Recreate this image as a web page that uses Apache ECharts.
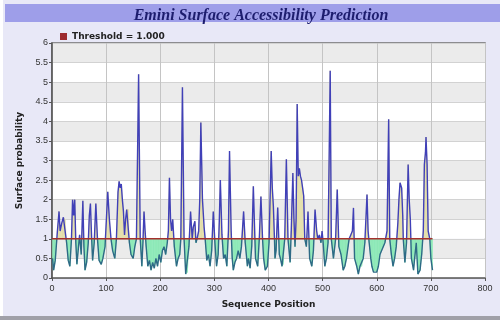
<!DOCTYPE html>
<html>
<head>
<meta charset="utf-8">
<script src="https://cdn.jsdelivr.net/npm/echarts@6/dist/echarts.min.js"></script>
<style>
  html, body { margin: 0; padding: 0; background: #fff; }
  #chart { width: 500px; height: 320px; }
</style>
</head>
<body>
<div id="chart"></div>
<script>
// Emini surface accessibility: [sequence position, probability]
const emini = [
  [1, 0.5], [3, 0.2], [6, 0.45], [10, 1.2], [13, 1.7], [15, 1.2], [18, 1.4], [21, 1.55], [24, 1.5],
  [27, 0.9], [30, 0.45], [33, 0.3], [36, 1.0], [38, 2.0], [40, 1.6], [42, 2.0], [44, 0.9], [46, 0.35],
  [49, 0.8], [51, 1.1], [54, 0.6], [57, 1.97], [59, 0.8], [61, 0.2], [64, 0.4], [67, 0.9], [69, 1.6],
  [71, 1.9], [73, 1.1], [75, 0.45], [78, 0.9], [81, 1.9], [84, 1.0], [87, 0.45], [91, 0.35], [94, 0.5],
  [98, 0.8], [103, 2.2], [106, 1.5], [109, 1.0], [112, 0.7], [116, 0.5], [119, 1.0], [122, 2.2],
  [124, 2.47], [126, 2.3], [128, 2.4], [130, 2.0], [132, 1.7], [134, 1.1], [136, 1.5], [138, 1.75],
  [141, 1.75], [143, 0.9], [146, 0.6], [150, 0.5], [153, 0.8], [156, 1.0], [160, 5.2], [163, 1.0],
  [166, 0.3], [168, 0.9], [170, 1.7], [172, 1.2], [174, 0.8], [177, 0.3], [180, 0.45], [183, 0.2],
  [186, 0.4], [189, 0.25], [192, 0.5], [195, 0.3], [198, 0.6], [201, 0.4], [204, 0.7], [207, 0.8],
  [210, 0.6], [213, 0.9], [215, 1.2], [217, 2.56], [219, 1.5], [221, 1.2], [223, 1.5], [226, 0.8],
  [230, 0.3], [233, 0.5], [236, 0.6], [238, 1.0], [241, 4.87], [244, 1.0], [247, 0.1], [250, 0.15],
  [253, 0.8], [256, 1.7], [259, 1.0], [261, 1.3], [264, 1.45], [266, 0.9], [268, 1.0], [271, 1.2],
  [273, 2.0], [275, 3.97], [278, 2.0], [281, 1.3], [283, 1.0], [286, 0.45], [289, 0.6], [292, 0.3],
  [295, 0.7], [298, 1.7], [301, 0.9], [304, 0.3], [307, 0.6], [309, 1.4], [311, 2.5], [314, 1.1],
  [317, 0.5], [320, 0.6], [323, 0.3], [326, 1.2], [328, 3.24], [331, 1.2], [333, 0.5], [335, 0.2],
  [338, 0.4], [341, 0.5], [344, 0.7], [347, 0.5], [350, 0.8], [354, 1.7], [357, 0.9], [361, 0.3],
  [363, 0.5], [366, 0.25], [369, 0.8], [372, 2.34], [374, 1.4], [376, 0.5], [380, 0.3], [383, 1.0],
  [386, 2.08], [389, 1.0], [391, 0.5], [394, 0.2], [398, 0.3], [401, 0.9], [405, 3.24], [407, 2.3],
  [409, 1.83], [411, 1.0], [412, 0.5], [414, 0.7], [417, 1.8], [420, 0.6], [422, 0.5], [425, 0.3],
  [427, 0.35], [430, 1.0], [433, 3.03], [436, 1.0], [440, 0.4], [442, 1.2], [445, 2.68], [447, 1.5],
  [449, 0.8], [451, 1.5], [453, 4.44], [455, 2.6], [457, 2.8], [459, 2.6], [461, 2.5], [463, 2.3],
  [465, 2.1], [467, 1.0], [470, 0.8], [473, 1.7], [476, 0.5], [480, 0.3], [483, 0.7], [486, 1.75],
  [489, 1.2], [491, 1.0], [494, 1.1], [497, 0.9], [499, 1.2], [501, 0.9], [504, 0.3], [507, 0.5],
  [510, 0.9], [512, 3.0], [514, 5.29], [516, 1.0], [520, 0.5], [524, 1.0], [527, 2.26], [530, 0.8],
  [534, 0.6], [538, 0.2], [541, 0.3], [544, 0.5], [547, 0.8], [549, 1.0], [552, 1.1], [555, 1.2],
  [557, 1.79], [559, 0.5], [563, 0.3], [566, 0.1], [569, 0.3], [572, 0.3], [575, 0.5], [578, 0.9],
  [582, 2.13], [584, 1.2], [586, 0.9], [589, 0.5], [591, 0.3], [594, 0.15], [597, 0.2], [600, 0.15],
  [603, 0.3], [606, 0.6], [609, 0.7], [612, 0.8], [615, 0.9], [619, 1.2], [622, 4.05], [624, 1.0],
  [627, 0.6], [630, 0.3], [633, 0.5], [636, 0.8], [639, 1.4], [641, 2.0], [643, 2.43], [646, 2.3],
  [648, 1.6], [649, 1.0], [652, 0.4], [655, 0.9], [658, 2.9], [660, 2.0], [662, 1.5], [664, 0.5],
  [668, 0.2], [670, 0.5], [673, 0.9], [676, 0.1], [680, 0.2], [683, 0.6], [686, 1.2], [688, 2.9],
  [690, 3.2], [691, 3.6], [693, 2.9], [695, 1.2], [698, 1.0], [700, 0.5], [703, 0.2]
]

const THRESHOLD = 1.0
const thresholdLine = [[0, THRESHOLD], [703, THRESHOLD]]
const thresholdName = 'Threshold = 1.000'

const X_MIN = 0, X_MAX = 800, X_STEP = 100
const Y_MIN = 0, Y_MAX = 6, Y_STEP = 0.5

const ABOVE_FILL = '#e4dfab'
const BELOW_FILL = '#8eeab8'
const ABOVE_LINE = '#4040b8'
const BELOW_LINE = '#2e6a86'

// fills the band between the curve and the threshold, one segment per data item
function renderBand(params, api) {
  const i = params.dataIndex
  if (i >= emini.length - 1) return null
  const [x0, v0] = emini[i]
  const [x1, v1] = emini[i + 1]
  const p0 = api.coord([x0, v0])
  const p1 = api.coord([x1, v1])
  const t0 = api.coord([x0, THRESHOLD])
  const t1 = api.coord([x1, THRESHOLD])
  const poly = (pts, up) => ({
    type: 'polygon',
    shape: { points: pts },
    style: { fill: up ? ABOVE_FILL : BELOW_FILL, stroke: up ? ABOVE_FILL : BELOW_FILL, lineWidth: 0.6 },
  })
  const up0 = v0 >= THRESHOLD
  const up1 = v1 >= THRESHOLD
  if (up0 === up1) {
    return { type: 'group', children: [poly([p0, p1, t1, t0], up0)] }
  }
  const f = (THRESHOLD - v0) / (v1 - v0)
  const pc = api.coord([x0 + f * (x1 - x0), THRESHOLD])
  return {
    type: 'group',
    children: [poly([p0, pc, t0], up0), poly([pc, p1, t1], up1)],
  }
}

const chart = echarts.init(document.getElementById('chart'))

const labelFont = { fontFamily: 'Liberation Sans, Arial, sans-serif', fontSize: 9, color: '#333' }
const nameFont = { fontFamily: 'DejaVu Sans, sans-serif', fontSize: 9, fontWeight: 'bold', color: '#222' }

chart.setOption({
  backgroundColor: '#e8e8f7',
  animation: false,
  graphic: [
    // title banner and frame edges
    { type: 'rect', shape: { x: 5, y: 4, width: 495, height: 18 }, style: { fill: '#9e9ee9' }, z: -1 },
    { type: 'rect', shape: { x: 0, y: 0, width: 3, height: 320 }, style: { fill: '#ffffff' }, z: -1 },
    { type: 'rect', shape: { x: 0, y: 316, width: 500, height: 4 }, style: { fill: '#a0a0a8' }, z: -1 },
  ],
  title: {
    text: 'Emini Surface Accessibility Prediction',
    left: 256,
    textAlign: 'center',
    top: 3,
    textStyle: {
      fontFamily: 'Liberation Serif, Times New Roman, serif',
      fontStyle: 'italic',
      fontWeight: 'bold',
      fontSize: 16,
      color: '#1d1d6e',
    },
  },
  legend: {
    left: 55,
    top: 27,
    data: [thresholdName],
    icon: 'rect',
    itemWidth: 7,
    itemHeight: 7,
    itemGap: 4,
    textStyle: nameFont,
  },
  grid: {
    left: 52,
    right: 15,
    top: 43,
    bottom: 42,
    show: true,
    borderColor: '#6e6e6e',
    borderWidth: 1.5,
    backgroundColor: 'transparent',
  },
  xAxis: {
    type: 'value',
    min: X_MIN,
    max: X_MAX,
    interval: X_STEP,
    name: 'Sequence Position',
    nameLocation: 'middle',
    nameGap: 22,
    nameTextStyle: nameFont,
    axisLine: { lineStyle: { color: '#555', width: 1.5 } },
    axisTick: { show: true, length: 3, lineStyle: { color: '#555' } },
    axisLabel: { ...labelFont, margin: 6 },
    splitLine: { show: true, lineStyle: { color: '#c4c4c4', width: 1 } },
  },
  yAxis: {
    type: 'value',
    min: Y_MIN,
    max: Y_MAX,
    interval: Y_STEP,
    name: 'Surface probability',
    nameLocation: 'middle',
    nameGap: 26,
    nameTextStyle: nameFont,
    axisLine: { show: true, lineStyle: { color: '#555', width: 1.5 } },
    axisTick: { show: true, length: 3, lineStyle: { color: '#555' } },
    axisLabel: { ...labelFont, margin: 4 },
    splitLine: { show: true, lineStyle: { color: '#d2d2d2', width: 1 } },
    splitArea: { show: true, areaStyle: { color: ['#ffffff', '#ebebeb'] } },
  },
  series: [
    {
      name: 'band',
      type: 'custom',
      data: emini,
      renderItem: renderBand,
      silent: true,
      z: 2,
    },
    {
      name: 'Emini',
      type: 'line',
      data: emini,
      showSymbol: false,
      silent: true,
      lineStyle: { width: 1.4, color: ABOVE_LINE },
      z: 3,
    },
    {
      name: thresholdName,
      type: 'line',
      data: thresholdLine,
      showSymbol: false,
      color: '#9c2a30',
      lineStyle: { width: 1.5, color: '#a5302c' },
      z: 4,
    },
  ],
})

// colour the curve blue above the threshold and slate below it
const yCut = chart.convertToPixel({ yAxisIndex: 0 }, THRESHOLD)
const h = chart.getHeight()
chart.setOption({
  series: [{}, {
    lineStyle: {
      color: new echarts.graphic.LinearGradient(0, 0, 0, h, [
        { offset: 0, color: ABOVE_LINE },
        { offset: yCut / h, color: ABOVE_LINE },
        { offset: yCut / h, color: BELOW_LINE },
        { offset: 1, color: BELOW_LINE },
      ], true),
    },
  }],
})
</script>
</body>
</html>
